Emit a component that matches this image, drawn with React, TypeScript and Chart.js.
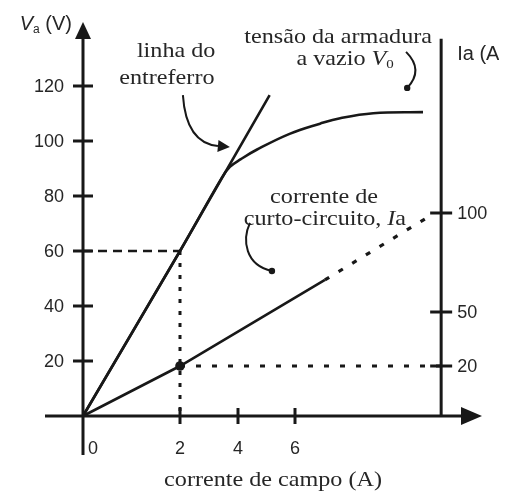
import { useEffect, useRef } from 'react';
import { Chart, registerables, LinearScale } from 'chart.js';

// ---- data ----
const FIELD_TICKS = [2, 4, 6];
const FIELD_TICK_LABELS = ['2', '4', '6'];
const VOLT_TICKS = [20, 40, 60, 80, 100, 120];
const IA_TICKS = [20, 50, 100];

const AIRGAP_IF = [0, 2, 5.11];
const AIRGAP_V = [0, 60, 116.7];

const OCC_IF = [0, 2, 3.45, 3.72, 4.1, 4.67, 5.81, 6.87, 7.57, 8.72, 10.45];
const OCC_V = [0, 60, 86.8, 90.6, 93.4, 96.9, 102.6, 106.3, 108.3, 110.1, 110.5];

const SCC_IF = [0, 2, 7.04];
const SCC_IA = [0, 20, 66.2];
const SCC_EXT_IF = [7.04, 10.63];
const SCC_EXT_IA = [66.2, 98];

const OP_IF = 2;
const OP_V = 60;
const OP_IA = 20;

const IA_AXIS_IF = 11.08;
const IA_AXIS_TOP = 188;

// ---- schematic (non-uniform) axis scales: [value, relative position] ----
const KNOTS: Record<string, number[][]> = {
  x: [[-0.78, 0], [0, 38], [2, 135], [4, 193], [6, 250], [12.5, 437]],
  y2: [[-15.6, 0], [0, 39], [20, 89], [50, 143], [100, 242], [196.5, 433]],
};

function interp(k: number[][], v: number, a: number, b: number) {
  const n = k.length;
  let i = 0;
  if (v >= k[n - 1][a]) i = n - 2;
  else if (v > k[0][a]) {
    while (i < n - 2 && v > k[i + 1][a]) i++;
  }
  const p = k[i], q = k[i + 1];
  return p[b] + ((v - p[a]) * (q[b] - p[b])) / (q[a] - p[a]);
}

class PiecewiseScale extends LinearScale {
  static id = 'piecewise';
  static defaults = LinearScale.defaults;
  getPixelForValue(value: any) {
    if (value === null || value === undefined || isNaN(value)) return NaN;
    const k = KNOTS[(this as any).id];
    const p0 = k[0][1], pn = k[k.length - 1][1];
    return this.getPixelForDecimal((interp(k, value, 0, 1) - p0) / (pn - p0));
  }
  getValueForPixel(pixel: number) {
    const k = KNOTS[(this as any).id];
    const p0 = k[0][1], pn = k[k.length - 1][1];
    const d = this.getDecimalForPixel(pixel);
    return interp(k, p0 + d * (pn - p0), 1, 0);
  }
}

Chart.register(...registerables, PiecewiseScale as any);

const pts = (xs: number[], ys: number[]) => xs.map((x, i) => ({ x, y: ys[i] }));

const INK = '#181818';
const TEXT = '#262626';
const SERIF = '"Liberation Serif", "Times New Roman", serif';
const SANS = '"Liberation Sans", Arial, sans-serif';
const STRETCH = 1.15;

type Piece = { t: string; font: string; dy?: number };

function drawPieces(ctx: CanvasRenderingContext2D, pieces: Piece[], x: number, y: number, align: 'left' | 'center' | 'right', sx: number) {
  let total = 0;
  const widths = pieces.map((p) => {
    ctx.font = p.font;
    const w = ctx.measureText(p.t).width * sx;
    total += w;
    return w;
  });
  let cx = align === 'left' ? x : align === 'center' ? x - total / 2 : x - total;
  pieces.forEach((p, i) => {
    ctx.save();
    ctx.font = p.font;
    ctx.textAlign = 'left';
    ctx.textBaseline = 'middle';
    ctx.translate(cx, y + (p.dy || 0));
    ctx.scale(sx, 1);
    ctx.fillText(p.t, 0, 0);
    ctx.restore();
    cx += widths[i];
  });
}

const overlay = {
  id: 'overlay',
  afterDatasetsDraw(chart: any) {
    const { ctx, chartArea: ca } = chart;
    const X = (v: number) => chart.scales.x.getPixelForValue(v);
    const Y = (v: number) => chart.scales.y.getPixelForValue(v);
    const Y2 = (v: number) => chart.scales.y2.getPixelForValue(v);
    const x0 = X(0), y0 = Y(0), xr = X(IA_AXIS_IF);

    const line = (a: number, b: number, c: number, d: number) => {
      ctx.beginPath();
      ctx.moveTo(a, b);
      ctx.lineTo(c, d);
      ctx.stroke();
    };
    const tri = (ax: number, ay: number, bx: number, by: number, cx: number, cy: number) => {
      ctx.beginPath();
      ctx.moveTo(ax, ay);
      ctx.lineTo(bx, by);
      ctx.lineTo(cx, cy);
      ctx.closePath();
      ctx.fill();
    };

    ctx.save();
    ctx.strokeStyle = INK;
    ctx.fillStyle = INK;
    ctx.lineWidth = 3;
    ctx.lineCap = 'butt';

    // axes
    line(x0, ca.bottom, x0, ca.top + 14);
    tri(x0, ca.top, x0 - 8, ca.top + 17, x0 + 8, ca.top + 17);
    line(ca.left, y0, ca.right - 18, y0);
    tri(ca.right, y0, ca.right - 21, y0 - 9, ca.right - 21, y0 + 9);
    line(xr, Y2(IA_AXIS_TOP), xr, y0);

    // tick marks
    VOLT_TICKS.forEach((v) => line(x0 - 10, Y(v), x0 + 10, Y(v)));
    IA_TICKS.forEach((v) => line(xr - 11, Y2(v), xr + 11, Y2(v)));
    FIELD_TICKS.forEach((v) => line(X(v), y0 - 8, X(v), y0 + 8));

    // tick labels
    ctx.fillStyle = TEXT;
    ctx.font = `18px ${SANS}`;
    ctx.textBaseline = 'middle';
    ctx.textAlign = 'right';
    VOLT_TICKS.forEach((v) => ctx.fillText(String(v), x0 - 19, Y(v) + 1));
    ctx.textAlign = 'left';
    IA_TICKS.forEach((v) => ctx.fillText(String(v), xr + 16, Y2(v) + 1));
    ctx.textAlign = 'center';
    FIELD_TICKS.forEach((v, i) => ctx.fillText(FIELD_TICK_LABELS[i], X(v), y0 + 33));
    ctx.fillText('0', x0 + 10, y0 + 33);

    // axis titles
    drawPieces(ctx, [
      { t: 'V', font: `italic 20px ${SANS}` },
      { t: 'a', font: `12px ${SANS}`, dy: 5 },
      { t: ' (V)', font: `20px ${SANS}` },
    ], x0 - 11, Y(142.3), 'right', 1);
    drawPieces(ctx, [{ t: 'Ia (A)', font: `20px ${SANS}` }], xr + 16, Y(131.6), 'left', 1);
    drawPieces(ctx, [{ t: 'corrente de campo (A)', font: `21px ${SERIF}` }], X(5.23), Y(-23.3), 'center', STRETCH);

    // annotations
    const f = `21px ${SERIF}`;
    const fi = `italic 21px ${SERIF}`;
    drawPieces(ctx, [{ t: 'linha do', font: f }], X(1.92), Y(132.4), 'center', STRETCH);
    drawPieces(ctx, [{ t: 'entreferro', font: f }], X(1.73), Y(122.9), 'center', STRETCH);
    drawPieces(ctx, [{ t: 'tensão da armadura', font: f }], X(7.5), Y(137.8), 'center', STRETCH);
    drawPieces(ctx, [
      { t: 'a vazio ', font: f },
      { t: 'V', font: fi },
      { t: '0', font: `13px ${SERIF}`, dy: 5 },
    ], X(7.74), Y(129.5), 'center', STRETCH);
    drawPieces(ctx, [{ t: 'corrente de', font: f }], X(7.01), Y(79.3), 'center', STRETCH);
    drawPieces(ctx, [
      { t: 'curto-circuito, ', font: f },
      { t: 'I', font: fi },
      { t: 'a', font: f },
    ], X(7.04), Y(71.3), 'center', STRETCH);

    // curved pointer arrows
    ctx.strokeStyle = INK;
    ctx.fillStyle = INK;
    ctx.lineWidth = 2;
    // 1: linha do entreferro
    {
      const sxp = X(2.1), syp = Y(116.7), cxp = X(2.21), cyp = Y(99.3), ex = X(3.72), ey = Y(97.8);
      const ang = Math.atan2(ey - cyp, ex - cxp);
      const bx = ex - 12 * Math.cos(ang), by = ey - 12 * Math.sin(ang);
      ctx.beginPath();
      ctx.moveTo(sxp, syp);
      ctx.quadraticCurveTo(cxp, cyp, bx, by);
      ctx.stroke();
      const nx = -Math.sin(ang) * 6, ny = Math.cos(ang) * 6;
      tri(ex, ey, bx + nx, by + ny, bx - nx, by - ny);
    }
    // 2: tensão a vazio
    ctx.beginPath();
    ctx.moveTo(X(9.86), Y(132.4));
    ctx.quadraticCurveTo(X(10.49), Y(125.8), X(9.9), Y(119.3));
    ctx.stroke();
    ctx.beginPath();
    ctx.arc(X(9.9), Y(119.3), 3.2, 0, Math.PI * 2);
    ctx.fill();
    // 3: corrente de curto-circuito
    ctx.beginPath();
    ctx.moveTo(X(4.42), Y(70.2));
    ctx.bezierCurveTo(X(4.14), Y(64), X(4.25), Y(54.9), X(5.19), Y(52.7));
    ctx.stroke();
    ctx.beginPath();
    ctx.arc(X(5.19), Y(52.7), 3.2, 0, Math.PI * 2);
    ctx.fill();

    ctx.restore();
  },
};

export default function App() {
  const ref = useRef<HTMLCanvasElement>(null);
  useEffect(() => {
    const base = { borderColor: INK, pointRadius: 0, fill: false, tension: 0 };
    const chart = new Chart(ref.current as HTMLCanvasElement, {
      type: 'line',
      data: {
        datasets: [
          { ...base, label: 'linha do entreferro', data: pts(AIRGAP_IF, AIRGAP_V), yAxisID: 'y', borderWidth: 2.6 },
          { ...base, label: 'tensão a vazio', data: pts(OCC_IF, OCC_V), yAxisID: 'y', borderWidth: 2.6, tension: 0.4 },
          { ...base, label: 'corrente de curto-circuito', data: pts(SCC_IF, SCC_IA), yAxisID: 'y2', borderWidth: 2.6 },
          { ...base, label: 'extrapolação', data: pts(SCC_EXT_IF, SCC_EXT_IA), yAxisID: 'y2', borderWidth: 3.2, borderDash: [5, 11] },
          { ...base, label: 'guia V', data: pts([0, OP_IF], [OP_V, OP_V]), yAxisID: 'y', borderWidth: 2.4, borderDash: [9, 6] },
          { ...base, label: 'guia If', data: pts([OP_IF, OP_IF], [OP_V, 0]), yAxisID: 'y', borderWidth: 3, borderDash: [4, 8] },
          { ...base, label: 'guia Ia', data: pts([OP_IF, IA_AXIS_IF], [OP_IA, OP_IA]), yAxisID: 'y2', borderWidth: 3, borderDash: [5, 11] },
          { ...base, label: 'ponto', data: pts([OP_IF], [OP_IA]), yAxisID: 'y2', showLine: false, pointRadius: 4.8, pointBackgroundColor: INK, pointBorderWidth: 0 },
        ] as any,
      },
      options: {
        animation: false,
        responsive: true,
        maintainAspectRatio: false,
        layout: { padding: { left: 37, right: 25, top: 14, bottom: 37 } },
        plugins: { legend: { display: false }, tooltip: { enabled: false } },
        events: [],
        scales: {
          x: { type: 'piecewise' as any, min: -0.78, max: 12.5, display: false },
          y: { type: 'linear', min: -14.18, max: 143.27, display: false },
          y2: { type: 'piecewise' as any, min: -15.6, max: 196.5, display: false },
        },
      },
      plugins: [overlay],
    });
    return () => chart.destroy();
  }, []);
  return (
    <div style={{ width: 499, height: 484, position: 'relative' }}>
      <canvas ref={ref} />
    </div>
  );
}
